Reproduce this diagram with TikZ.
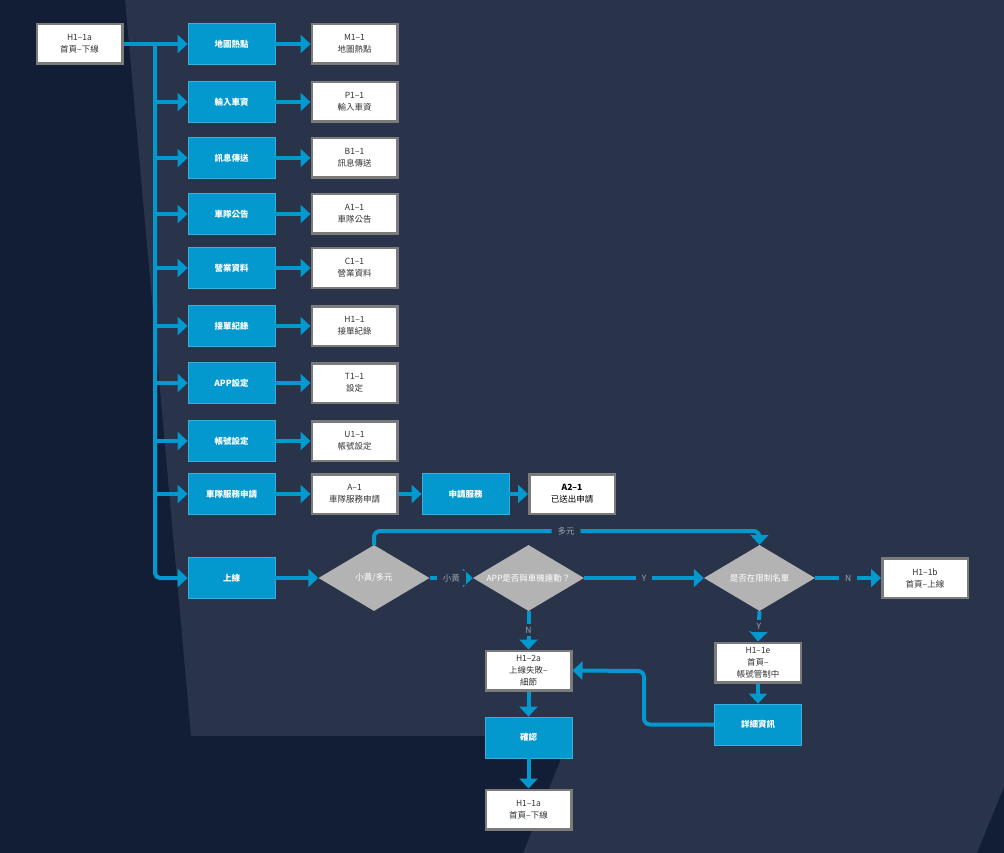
\documentclass[tikz,border=0pt]{standalone}
\usepackage{fontspec}
\setmainfont{Noto Sans CJK TC}
\usetikzlibrary{arrows.meta,shapes.geometric}

\definecolor{bgmain}{HTML}{29344B}
\definecolor{bgdark}{HTML}{111E35}
\definecolor{flowblue}{HTML}{0399CE}
\definecolor{actionedge}{HTML}{3AAEDD}
\definecolor{boxedge}{HTML}{7B7B7B}
\definecolor{diamondgray}{HTML}{B3B3B3}
\definecolor{labelgray}{HTML}{9EA3AC}
\definecolor{textdark}{HTML}{333333}

\begin{document}
\begin{tikzpicture}[x=1pt,y=-1pt,
  every node/.style={font=\fontsize{8.5}{12}\selectfont, align=center, inner sep=0pt},
  screen/.style={draw=boxedge, line width=2.5pt, fill=white, text=textdark,
    minimum width=85.5pt, minimum height=39.5pt},
  action/.style={draw=actionedge, line width=0.8pt, fill=flowblue, text=white,
    font=\fontsize{8.5}{12}\selectfont\bfseries, minimum width=87pt, minimum height=41pt},
  decision/.style={diamond, fill=diamondgray, text=white, minimum width=111pt, minimum height=66pt},
  flow/.style={draw=flowblue, line width=4pt, -{Triangle[length=10pt,width=18pt]}},
  cond/.style={fill=bgmain, text=labelgray, inner xsep=6pt, inner ysep=3pt},
]
% canvas and background shapes
\useasboundingbox (0,0) rectangle (1004,853);
\fill[bgmain] (0,0) rectangle (1004,853);
\fill[bgdark] (0,0) -- (125,0) -- (191,736) -- (570,736) -- (523,853) -- (0,853) -- cycle;
\fill[bgdark] (1004,787) -- (977,853) -- (1004,853) -- cycle;

% start screen
\node[screen] (h1a) at (79.5,44) {H1–1a\\首頁–下線};
\coordinate (trunk) at (155,44);

% menu actions and their target screens
\node[action] (b1) at (231.5,44)  {地圖熱點};
\node[action] (b2) at (231.5,102) {輸入車資};
\node[action] (b3) at (231.5,158) {訊息傳送};
\node[action] (b4) at (231.5,214) {車隊公告};
\node[action] (b5) at (231.5,268) {營業資料};
\node[action] (b6) at (231.5,326) {接單紀錄};
\node[action] (b7) at (231.5,383) {APP設定};
\node[action] (b8) at (231.5,441) {帳號設定};
\node[action] (b9) at (231.5,494) {車隊服務申請};
\node[action] (b10) at (231.5,578) {上線};

\node[screen] (s1) at (354.5,44)  {M1–1\\地圖熱點};
\node[screen] (s2) at (354.5,102) {P1–1\\輸入車資};
\node[screen] (s3) at (354.5,158) {B1–1\\訊息傳送};
\node[screen] (s4) at (354.5,214) {A1–1\\車隊公告};
\node[screen] (s5) at (354.5,268) {C1–1\\營業資料};
\node[screen] (s6) at (354.5,326) {H1–1\\接單紀錄};
\node[screen] (s7) at (354.5,383) {T1–1\\設定};
\node[screen] (s8) at (354.5,441) {U1–1\\帳號設定};
\node[screen] (s9) at (354.5,494) {A–1\\車隊服務申請};

\node[action] (apply) at (465.5,494) {申請服務};
\node[screen, text=black] (a21) at (572,494) {\textbf{A2–1}\\已送出申請};

% going online
\node[decision] (d1) at (374,578) {\makebox[0pt]{小黃/多元}};
\node[decision] (d2) at (528.5,578) {\makebox[0pt]{APP是否與車機連動？}};
\node[decision] (d3) at (759.5,578) {\makebox[0pt]{是否在限制名單}};
\node[screen] (h1b) at (925,578) {H1–1b\\首頁–上線};
\node[screen] (h12a) at (528.5,670.5) {H1–2a\\上線失敗–\\細節};
\node[action] (confirm) at (528.5,737.5) {確認};
\node[screen] (h1a2) at (528.5,809.5) {H1–1a\\首頁–下線};
\node[screen] (h1e) at (758,662.5) {H1–1e\\首頁–\\帳號管制中};
\node[action] (detail) at (758,724.5) {詳細資訊};
\coordinate (multi) at (566,531);
\coordinate (back) at (644,671);

% trunk from the start screen down to the last action, branches off it
\draw[flow] (h1a.east) -- (b1.west);
\draw[flow, rounded corners=5pt] (trunk) |- (b10.west);
\foreach \b in {b2,b3,b4,b5,b6,b7,b8,b9}
  \draw[flow] (trunk |- \b.west) -- (\b.west);

% actions to screens
\foreach \i in {1,...,9}
  \draw[flow] (b\i.east) -- (s\i.west);
\draw[flow] (s9.east) -- (apply.west);
\draw[flow] (apply.east) -- (a21.west);

% decisions
\draw[flow] (b10.east) -- (d1.west);
\draw[flow] (d1.east) -- node[cond]{小黃} (d2.west);
\draw[flow, rounded corners=6pt] (d1.north) |- (multi) node[cond]{多元} -| (d3.north);
\draw[flow] (d2.east) -- node[cond]{Y} (d3.west);
\draw[flow] (d3.east) -- node[cond]{N} (h1b.west);
\draw[flow] (d2.south) -- node[cond]{N} (h12a.north);
\draw[flow] (d3.south) -- node[cond]{Y} (h1e.north);
\draw[flow] (h1e.south) -- (detail.north);
\draw[flow, rounded corners=6pt] (detail.west) -| (back) -- (h12a.east);
\draw[flow] (h12a.south) -- (confirm.north);
\draw[flow] (confirm.south) -- (h1a2.north);
\end{tikzpicture}
\end{document}
